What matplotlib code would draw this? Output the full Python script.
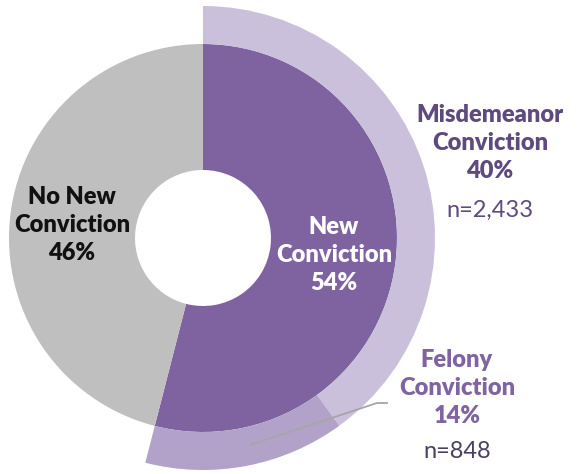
import matplotlib
matplotlib.use("Agg")
import matplotlib.pyplot as plt

plt.rcParams['font.family'] = ['Lato', 'DejaVu Sans']

inner_labels = ["New\nConviction", "No New\nConviction"]
inner_values = [54, 46]
outer_labels = ["Misdemeanor\nConviction", "Felony\nConviction"]
outer_values = [40, 14]
outer_counts = ["n=2,433", "n=848"]

inner_colors = ["#7F63A1", "#BFBFBF"]
outer_colors = ["#CBC0DC", "#B2A2CA", "none"]

W, H = 581, 474
fig = plt.figure(figsize=(W / 100, H / 100), dpi=100)
ax = fig.add_axes([0, 0, 1, 1])

cx, cy = 203, H - 238
r_in, r_mid, r_out = 68, 194, 232

ax.pie(inner_values, radius=r_mid, center=(cx, cy), startangle=90, counterclock=False,
       colors=inner_colors, wedgeprops=dict(width=r_mid - r_in, linewidth=0))
rest = 100 - sum(outer_values)
ax.pie(outer_values + [rest], radius=r_out, center=(cx, cy), startangle=90, counterclock=False,
       colors=outer_colors, wedgeprops=dict(width=r_out - r_mid, linewidth=0))

ax.set_xlim(0, W)
ax.set_ylim(0, H)
ax.set_aspect('equal')
ax.axis('off')

fs = 17
wt = 'heavy'
# inner labels
ax.text(334, H - 255, f"{inner_labels[0]}\n{inner_values[0]}%", color="white", fontsize=fs,
        fontweight=wt, ha='center', va='center', linespacing=1.35)
ax.text(72, H - 225, f"{inner_labels[1]}\n{inner_values[1]}%", color="#111111", fontsize=fs,
        fontweight=wt, ha='center', va='center', linespacing=1.35)

# outer labels
ax.text(490, H - 143, f"{outer_labels[0]}\n{outer_values[0]}%", color="#5E4A7E", fontsize=fs,
        fontweight=wt, ha='center', va='center', linespacing=1.35)
ax.text(490, H - 210, outer_counts[0], color="#5E4A7E", fontsize=fs, ha='center', va='center')

ax.text(457, H - 388, f"{outer_labels[1]}\n{outer_values[1]}%", color="#8064A2", fontsize=fs,
        fontweight=wt, ha='center', va='center', linespacing=1.35)
ax.text(457, H - 452, outer_counts[1], color="#4A4060", fontsize=fs, ha='center', va='center')

# leader line
ax.plot([250, 377, 388], [H - 445, H - 403, H - 403], color="#A6A6A6", linewidth=1.3,
        solid_capstyle='butt')

fig.savefig("out.png", dpi=100)
